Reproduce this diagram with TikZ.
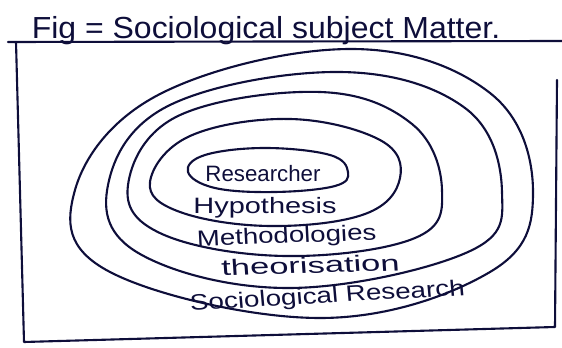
\documentclass[tikz,border=0pt]{standalone}
\usepackage{fontspec}
\setmainfont{Liberation Sans}
\definecolor{ink}{RGB}{14,14,58}

\begin{document}
\begin{tikzpicture}
[x=0.03cm,y=-0.03cm,ink,line width=1.8pt,line cap=round,line join=round,%
  every node/.style={inner sep=0pt,text=ink},%
  ring/.style={smooth cycle,tension=0.65},%
  ringlabel/.style={anchor=base,font=\fontsize{19}{21}\selectfont}]
\useasboundingbox (0,0) rectangle (562,348);
%%
\node[anchor=base,xscale=1.05,font=\fontsize{26}{28}\selectfont] (title) at (266,39)
  {Fig = Sociological subject Matter.};
\coordinate (lineL) at (8,42);
\coordinate (lineR) at (562,41);
\draw (lineL) -- (lineR);
%%
\coordinate (boxTL) at (16,42);
\coordinate (boxBL) at (24,342);
\coordinate (boxBR) at (555,327);
\coordinate (boxTR) at (557,80);
\draw (boxTL) -- (boxBL) -- (boxBR) -- (boxTR);
%%
% rings, inner to outer
\draw plot[ring] coordinates {(188,172) (215,188) (275,192) (335,186)
  (348,172) (330,155) (265,148) (205,155)};
\draw plot[ring] coordinates {(150,182) (180,212) (270,226) (365,214)
  (400,178) (380,140) (290,119) (190,136)};
\draw plot[ring] coordinates {(128,185) (162,234) (285,256) (415,238)
  (442,190) (412,124) (320,92) (178,116)};
\draw plot[ring] coordinates {(108,185) (140,254) (290,288) (468,252)
  (502,192) (465,108) (340,72) (170,105)};
\draw plot[ring] coordinates {(75,190) (110,272) (320,318) (490,272)
  (533,192) (490,93) (350,49) (160,94)};
%%
\node[ringlabel,xscale=1.0] (researcher) at (263,182) {Researcher};
\node[ringlabel,xscale=1.3] (hypothesis) at (265,214) {Hypothesis};
\node[ringlabel,xscale=1.24,rotate=2.5] (methodologies) at (287,243) {Methodologies};
\node[ringlabel,xscale=1.55,rotate=2.5] (theorisation) at (311,273) {theorisation};
\node[ringlabel,xscale=1.25,rotate=4] (socresearch) at (328,303) {Sociological Research};
\end{tikzpicture}
\end{document}
